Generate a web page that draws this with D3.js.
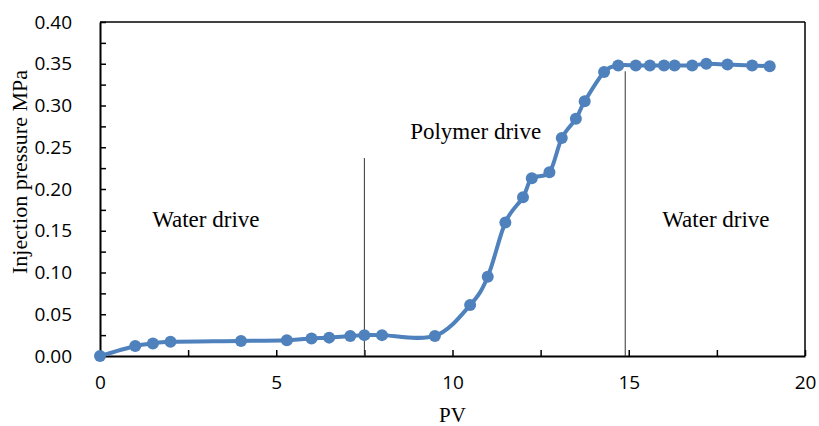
<!DOCTYPE html>
<html>
<head>
<meta charset="utf-8">
<script src="https://cdn.jsdelivr.net/npm/d3@7"></script>
<style>
  html, body { margin: 0; padding: 0; background: #fff; }
  svg { display: block; }
  .tick-label { font-family: "Open Sans", "Liberation Sans", sans-serif; font-size: 19px; fill: #000; }
  .serif { font-family: "Liberation Serif", "Times New Roman", serif; fill: #000; }
</style>
</head>
<body>
<svg id="chart" width="819" height="426"></svg>
<script>
// Injection pressure versus injected pore volume
const pv = [0, 1.0, 1.5, 2.0, 4.0, 5.3, 6.0, 6.5, 7.1, 7.5, 8.0, 9.5, 10.5, 11.0, 11.5, 12.0,
            12.25, 12.75, 13.1, 13.5, 13.75, 14.3, 14.7, 15.2, 15.6, 16.0, 16.3, 16.8, 17.2, 17.8, 18.5, 19.0];
const pressure = [0, 0.012, 0.015, 0.017, 0.018, 0.019, 0.021, 0.022, 0.024, 0.025, 0.025, 0.024, 0.061, 0.095, 0.160, 0.190,
                  0.213, 0.220, 0.261, 0.284, 0.305, 0.340, 0.348, 0.348, 0.348, 0.348, 0.348, 0.348, 0.350, 0.349, 0.348, 0.347];

const xTicks = [0, 5, 10, 15, 20];
const xMinorTicks = [2.5, 7.5, 12.5, 17.5];
const yTicks = [0, 0.05, 0.10, 0.15, 0.20, 0.25, 0.30, 0.35, 0.40];
const yMinorTicks = [0.025, 0.075, 0.125, 0.175, 0.225, 0.275, 0.325, 0.375];

// Stage boundaries (PV, pressure at top of marker line) and stage names
const stageLines = [{ pv: 7.5, top: 0.237 }, { pv: 14.9, top: 0.341 }];
const stageLabels = [
  { text: "Water drive", pv: 1.48, p: 0.155 },
  { text: "Polymer drive", pv: 8.8, p: 0.26 },
  { text: "Water drive", pv: 15.95, p: 0.155 }
];

const color = "#4F81BD";
const svg = d3.select("#chart");
const plotLeft = 100, plotRight = 805, plotTop = 22, plotBottom = 356;

const x = d3.scaleLinear().domain([0, 20]).range([plotLeft, plotRight]);
const y = d3.scaleLinear().domain([0, 0.40]).range([plotBottom, plotTop]);

// frame on the top and right
svg.append("line").attr("x1", plotLeft).attr("x2", plotRight).attr("y1", plotTop).attr("y2", plotTop)
  .attr("stroke", "#000").attr("stroke-width", 1.5);
svg.append("line").attr("x1", plotRight).attr("x2", plotRight).attr("y1", plotTop).attr("y2", plotBottom)
  .attr("stroke", "#000").attr("stroke-width", 1.5);

// x axis: ticks pointing into the plot
const xAxis = svg.append("g").attr("transform", `translate(0,${plotBottom})`);
xAxis.call(d3.axisBottom(x).tickValues(xTicks).tickSizeInner(-6).tickSizeOuter(0).tickPadding(20)
  .tickFormat(d3.format("d")));
xAxis.append("g").call(d3.axisBottom(x).tickValues(xMinorTicks).tickSizeInner(-6).tickSizeOuter(0).tickFormat(""))
  .select(".domain").remove();
xAxis.selectAll(".domain").attr("stroke", "#000").attr("stroke-width", 2);
xAxis.selectAll(".tick line").attr("stroke", "#000").attr("stroke-width", 1.5);
xAxis.selectAll(".tick text").attr("class", "tick-label").attr("font-size", null).attr("font-family", null)
  .attr("dy", "0.71em");

// y axis: ticks pointing into the plot
const yAxis = svg.append("g").attr("transform", `translate(${plotLeft},0)`);
yAxis.call(d3.axisLeft(y).tickValues(yTicks).tickSizeInner(-6).tickSizeOuter(0).tickPadding(28)
  .tickFormat(d3.format(".2f")));
yAxis.append("g").call(d3.axisLeft(y).tickValues(yMinorTicks).tickSizeInner(-6).tickSizeOuter(0).tickFormat(""))
  .select(".domain").remove();
yAxis.selectAll(".domain").attr("stroke", "#000").attr("stroke-width", 2);
yAxis.selectAll(".tick line").attr("stroke", "#000").attr("stroke-width", 1.5);
yAxis.selectAll(".tick text").attr("class", "tick-label").attr("font-size", null).attr("font-family", null);

// stage boundaries
svg.selectAll(".stage-line").data(stageLines).enter().append("line")
  .attr("class", "stage-line")
  .attr("x1", d => x(d.pv)).attr("x2", d => x(d.pv))
  .attr("y1", d => y(d.top)).attr("y2", plotBottom)
  .attr("stroke", "#333").attr("stroke-width", 1);

// smoothed pressure curve
const pts = pv.map((v, i) => [v, pressure[i]]);
const line = d3.line().x(d => x(d[0])).y(d => y(d[1])).curve(d3.curveCardinal.tension(0));
svg.append("path").datum(pts)
  .attr("d", line).attr("fill", "none").attr("stroke", color).attr("stroke-width", 4)
  .attr("stroke-linejoin", "round");

svg.selectAll(".pt").data(pts).enter().append("circle")
  .attr("class", "pt")
  .attr("cx", d => x(d[0])).attr("cy", d => y(d[1])).attr("r", 6)
  .attr("fill", color);

// stage names
svg.selectAll(".stage-label").data(stageLabels).enter().append("text")
  .attr("class", "serif")
  .attr("x", d => x(d.pv)).attr("y", d => y(d.p))
  .attr("font-size", 23)
  .text(d => d.text);

// axis titles
svg.append("text").attr("class", "serif")
  .attr("x", (plotLeft + plotRight) / 2).attr("y", 422)
  .attr("text-anchor", "middle").attr("font-size", 21)
  .text("PV");
svg.append("text").attr("class", "serif")
  .attr("transform", "translate(27,172) rotate(-90)")
  .attr("text-anchor", "middle").attr("font-size", 22)
  .text("Injection pressure MPa");
</script>
</body>
</html>
